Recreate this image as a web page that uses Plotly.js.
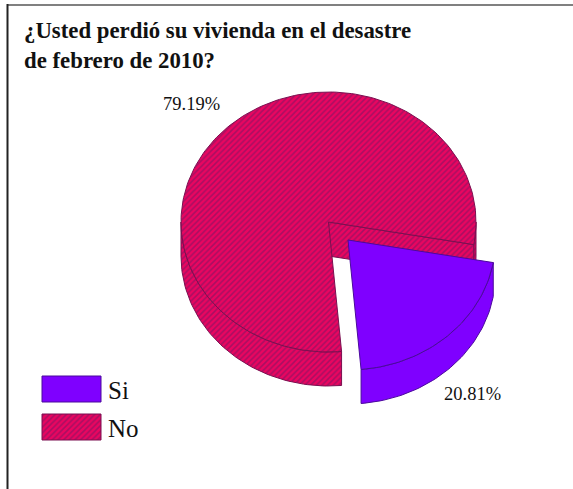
<!DOCTYPE html>
<html>
<head>
<meta charset="utf-8">
<script src="https://cdn.plot.ly/plotly-3.0.1.min.js"></script>
<style>html,body{margin:0;padding:0;background:#fff}#chart{width:573px;height:489px}</style>
</head>
<body>
<div id="chart"></div>
<script>
// Survey shares
const categories = ['Si', 'No'];
const shares = [20.81, 79.19];
const titleLines = ['¿Usted perdió su vivienda en el desastre', 'de febrero de 2010?'];

// Drawing style and pie projection
const SERIF = '"Liberation Serif", "Times New Roman", serif';
const hatch = {shape: '/', bgcolor: '#ea0560', fgcolor: '#a80f62', size: 4, solidity: 0.38};
const crimsonEdge = '#7a0f50';
const violet = '#7f00ff';
const violetEdge = '#4b0a9c';
const pie = {cx: 328.5, cy: 222, rx: 147.5, ry: 130, depth: 34, startDeg: 10};
const cut = {dx: 19.5, dy: 18};

const rad = d => d * Math.PI / 180;
const rim = (deg, ox, oy) => [pie.cx + ox + pie.rx * Math.cos(rad(deg)), pie.cy + oy + pie.ry * Math.sin(rad(deg))];

// Sweep along the rim from one angle to another
function arc(from, to, ox, oy) {
  const steps = Math.max(2, Math.ceil(Math.abs(to - from) / 1.5));
  const pts = [];
  for (let i = 0; i <= steps; i++) pts.push(rim(from + (to - from) * i / steps, ox, oy));
  return pts;
}

function polygon(pts, fillStyle, edge, name) {
  const closed = pts.concat([pts[0]]);
  const trace = {
    type: 'scatter', mode: 'lines', name: name, hoverinfo: 'name', showlegend: false,
    x: closed.map(p => p[0]), y: closed.map(p => p[1]),
    fill: 'toself', line: {color: edge, width: 1}
  };
  return Object.assign(trace, fillStyle);
}

const solidViolet = {fillcolor: violet};
const hatched = {fillcolor: hatch.bgcolor, fillpattern: hatch};

// Slice extents follow from the shares
const siStart = pie.startDeg;
const siEnd = siStart + shares[0] * 3.6;
const noEnd = siStart + 360;
const d = pie.depth;
const apex = [pie.cx, pie.cy];
const apexLow = [pie.cx, pie.cy + d];

const traces = [];

// "No" slice: outer walls, inner cut wall, then the top face
traces.push(polygon(arc(siEnd, 180, 0, 0).concat(arc(180, siEnd, 0, d)), hatched, crimsonEdge, 'No'));
traces.push(polygon(arc(0, siStart, 0, 0).concat(arc(siStart, 0, 0, d)), hatched, crimsonEdge, 'No'));
traces.push(polygon([apex, rim(siStart, 0, 0), rim(siStart, 0, d), apexLow], hatched, crimsonEdge, 'No'));
traces.push(polygon([apex].concat(arc(siEnd, noEnd, 0, 0)), hatched, crimsonEdge, 'No'));

// "Si" slice, pulled out of the pie
traces.push(polygon(arc(siStart, siEnd, cut.dx, cut.dy).concat(arc(siEnd, siStart, cut.dx, cut.dy + d)), solidViolet, violetEdge, 'Si'));
traces.push(polygon([[pie.cx + cut.dx, pie.cy + cut.dy]].concat(arc(siStart, siEnd, cut.dx, cut.dy)), solidViolet, violetEdge, 'Si'));

// Legend swatches
const swatch = (x0, y0, x1, y1) => [[x0, y0], [x1, y0], [x1, y1], [x0, y1]];
traces.push(polygon(swatch(42, 376, 101, 402), solidViolet, violetEdge, categories[0]));
traces.push(polygon(swatch(42, 414, 101, 440), hatched, crimsonEdge, categories[1]));

const text = (x, y, s, size, anchor, extra) => Object.assign({
  x: x, y: y, xref: 'x', yref: 'y', text: s, showarrow: false,
  xanchor: anchor, yanchor: 'middle', font: {family: SERIF, size: size, color: '#111'}
}, extra || {});

const annotations = [
  text(22, 30, '<b>' + titleLines[0] + '</b>', 22.8, 'left'),
  text(22, 60, '<b>' + titleLines[1] + '</b>', 22.8, 'left'),
  text(191, 104, shares[1].toFixed(2) + '%', 18.5, 'center'),
  text(472.5, 394, shares[0].toFixed(2) + '%', 18.5, 'center'),
  text(106, 390, categories[0], 25, 'left'),
  text(106, 428, categories[1], 25, 'left')
];

const layout = {
  width: 573, height: 489,
  margin: {l: 0, r: 0, t: 0, b: 0},
  paper_bgcolor: '#fff', plot_bgcolor: '#fff',
  showlegend: false,
  xaxis: {range: [0, 573], visible: false, fixedrange: true},
  yaxis: {range: [489, 0], visible: false, fixedrange: true},
  annotations: annotations,
  // Page frame: top and left rules
  shapes: [
    {type: 'line', xref: 'x', yref: 'y', x0: 7, x1: 573, y0: 5, y1: 5, line: {color: '#808080', width: 2}},
    {type: 'line', xref: 'x', yref: 'y', x0: 7.5, x1: 7.5, y0: 4, y1: 489, line: {color: '#222', width: 2}}
  ]
};

Plotly.newPlot('chart', traces, layout, {displayModeBar: false, staticPlot: true});
</script>
</body>
</html>
